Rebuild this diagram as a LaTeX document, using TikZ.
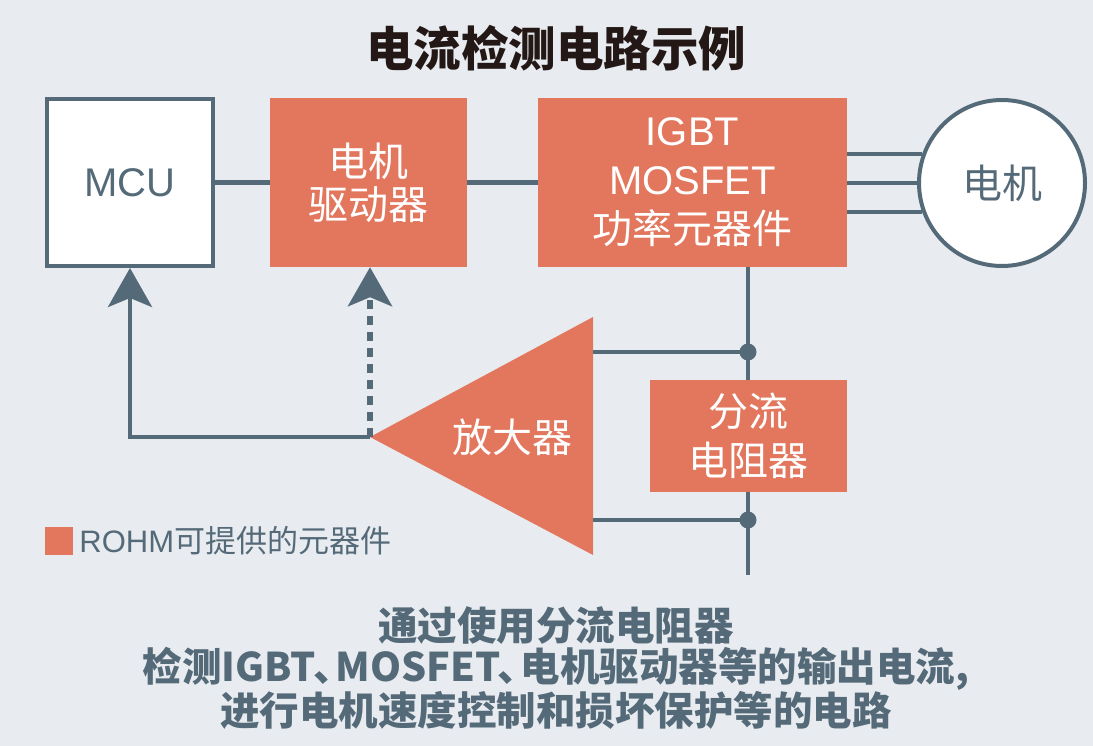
\documentclass[tikz,border=0pt]{standalone}
\usepackage{fontspec}
\setmainfont{Liberation Sans}
\newfontfamily\cjk{Noto Sans CJK SC}
\newcommand\zh[1]{{\cjk #1}}
\newcommand\dun{\kern-.08em、\kern-.42em}
\usepackage{tikz}
\usetikzlibrary{arrows.meta,positioning,calc}
\definecolor{bgc}{RGB}{232,236,240}
\definecolor{ink}{RGB}{85,106,120}
\definecolor{rohm}{RGB}{226,119,94}
\definecolor{txt}{RGB}{35,24,21}
\tikzset{
  box/.style={draw=ink,line width=4pt,fill=white,minimum width=166pt,minimum height=167pt,inner sep=0pt,text=ink,font=\fontsize{40}{44}\selectfont},
  part/.style={fill=rohm,inner sep=0pt,text=white,align=center,font=\cjk\fontsize{40}{#1}\selectfont},
  part/.default={44},
  wire/.style={draw=ink,line width=4.5pt},
  arr/.style={wire,-{Stealth[length=39pt,width=44pt,inset=9pt]}},
  jct/.style={circle,fill=ink,inner sep=0pt,minimum size=17pt},
  lbl/.style={text=ink,inner sep=0pt,font=\fontsize{31}{34}\selectfont},
}

\begin{document}
\begin{tikzpicture}[x=1pt,y=-1pt]
 \path[use as bounding box,fill=bgc] (0,0) rectangle (1093,746);
 \node[text=txt,font=\cjk\bfseries\fontsize{47.5}{50}\selectfont] (title) at (556,48) {电流检测电路示例};
 % blocks
 \node[box] (mcu) at (130,182.5) {MCU};
 \node[part=43,minimum width=197pt,minimum height=169pt] (drv) at (368.5,182.5) {电机\\驱动器};
 \node[part=49,minimum width=309pt,minimum height=169pt,font=\fontsize{40}{49}\selectfont] (pwr) at (692.5,182.5) {IGBT\\MOSFET\\\zh{功率元器件}};
 \node[circle,draw=ink,line width=4pt,fill=white,minimum size=166pt,inner sep=0pt,text=ink,font=\cjk\fontsize{40}{44}\selectfont] (motor) at (1002,183) {电机};
 \draw[wire] (mcu) -- (drv);
 \draw[wire] (drv) -- (pwr);
 \foreach \a in {160,180,200}{\draw[wire] (motor.\a) -- (motor.\a -| pwr.east);}
 % shunt and sense taps
 \coordinate (bus-end) at (748,575);
 \coordinate (tap-hi) at (748,352);
 \coordinate (tap-lo) at (748,520);
 \draw[wire] (pwr.south -| bus-end) -- (bus-end);
 \node[part=49,minimum width=197pt,minimum height=112pt] (shunt) at (748.5,436) {分流\\电阻器};
 % amplifier
 \coordinate (amp-apex) at (370,437);
 \coordinate (amp-top) at (593,317);
 \coordinate (amp-bot) at (593,555);
 \fill[rohm] (amp-apex) -- (amp-top) -- (amp-bot) -- cycle;
 \node[text=white,font=\cjk\fontsize{40}{44}\selectfont] (amp) at (512,437) {放大器};
 \draw[wire] (tap-hi) -- (tap-hi -| amp-top);
 \draw[wire] (tap-lo) -- (tap-lo -| amp-top);
 \node[jct] (jhi) at (tap-hi) {};
 \node[jct] (jlo) at (tap-lo) {};
 \draw[arr] (amp-apex) -| (mcu.south);
 \draw[arr,line width=6pt,dash pattern=on 9pt off 7pt] (amp-apex) -- (amp-apex |- drv.south);
 % legend
 \node[fill=rohm,minimum size=28pt,inner sep=0pt] (key) at (59,541) {};
 \node[lbl,right=6pt of key] (keytxt) {ROHM\zh{可提供的元器件}};
 \node[align=center,text=ink,font=\cjk\bfseries\fontsize{39.5}{41.5}\selectfont] (note) at (556,668)
  {通过使用分流电阻器\\检测IGBT\dun MOSFET\dun 电机驱动器等的输出电流,\\进行电机速度控制和损坏保护等的电路};
\end{tikzpicture}
\end{document}
